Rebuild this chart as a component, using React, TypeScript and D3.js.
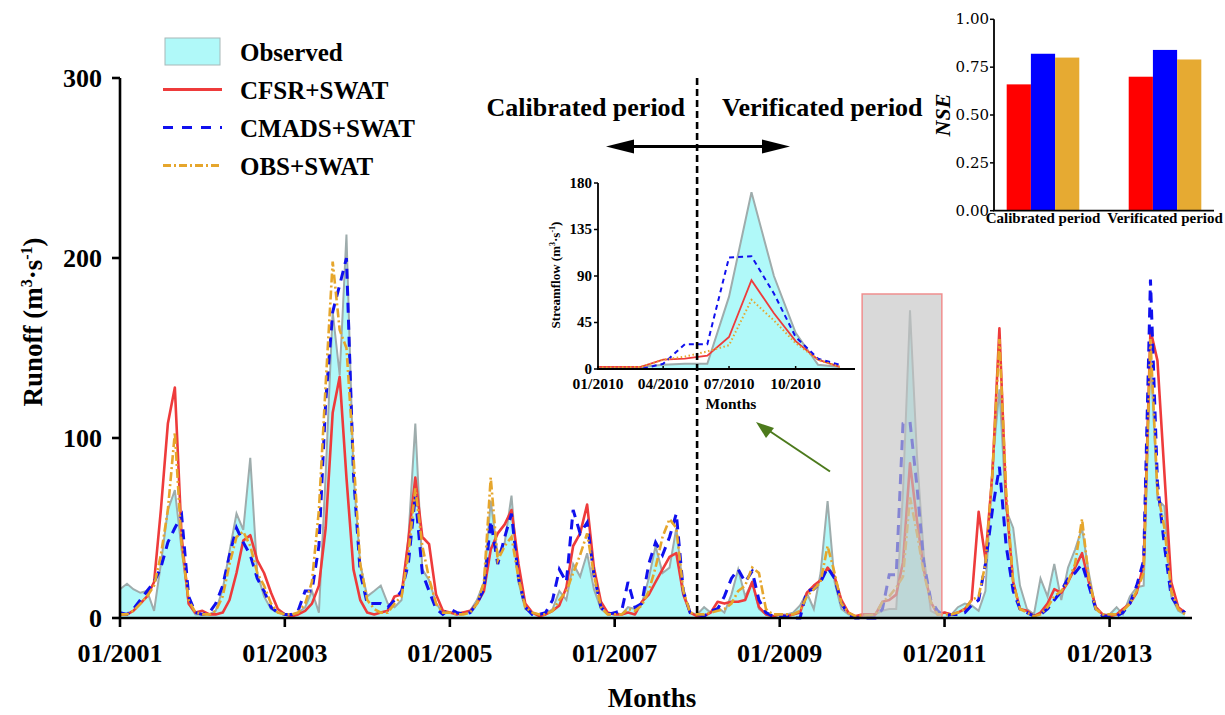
import React from 'react';
import * as d3 from 'd3';

// monthly runoff, 01/2001 .. 12/2013 (one row per year)
const observed = [
  16, 19, 16, 14, 15, 4, 30, 60, 71, 38, 8, 2,
  2, 2, 4, 16, 37, 58, 49, 89, 25, 12, 5, 3,
  2, 2, 3, 6, 15, 3, 80, 170, 135, 213, 80, 30,
  12, 15, 18, 8, 6, 10, 44, 108, 27, 21, 8, 3,
  3, 3, 3, 4, 10, 20, 65, 35, 42, 68, 20, 5,
  3, 2, 2, 5, 15, 10, 30, 23, 36, 16, 5, 2,
  3, 2, 6, 5, 8, 22, 40, 25, 28, 50, 15, 3,
  2, 6, 3, 6, 3, 13, 27, 12, 20, 5, 2, 1,
  2, 2, 3, 7, 14, 5, 25, 65, 20, 5, 2, 1,
  1, 1, 2, 4, 5, 5, 70, 171, 90, 35, 4, 2,
  3, 2, 6, 8, 7, 4, 15, 85, 127, 60, 50, 18,
  5, 2, 22, 12, 30, 10, 28, 38, 50, 25, 5, 2,
  2, 6, 2, 12, 17, 18, 148, 66, 62, 12, 4, 2
];

const cfsr = [
  2, 2, 4, 8, 12, 20, 60, 108, 128, 45, 8, 3,
  4, 2, 2, 3, 10, 25, 43, 46, 32, 25, 14, 5,
  2, 1, 2, 4, 8, 18, 50, 114, 134, 78, 27, 10,
  3, 2, 3, 4, 12, 13, 43, 78, 45, 41, 13, 4,
  3, 2, 3, 4, 8, 15, 38, 47, 52, 60, 30, 8,
  3, 1, 2, 4, 7, 17, 40, 47, 63, 28, 9, 3,
  2, 2, 3, 2, 9, 13, 20, 27, 34, 36, 13, 3,
  1, 1, 3, 9, 8, 9, 9, 10, 20, 6, 2, 1,
  2, 1, 2, 3, 14, 18, 21, 28, 23, 10, 3, 1,
  2, 2, 2, 9, 10, 13, 31, 86, 54, 27, 9, 2,
  3, 2, 3, 5, 10, 59, 33, 80, 161, 65, 20, 5,
  4, 1, 3, 8, 16, 14, 20, 28, 36, 20, 6, 2,
  1, 2, 5, 8, 14, 30, 160, 143, 80, 20, 6, 3
];

const cmads = [
  3, 2, 5, 10, 15, 20, 28, 42, 50, 57, 12, 3,
  2, 3, 8, 18, 35, 50, 42, 35, 22, 15, 6, 3,
  2, 2, 4, 15, 15, 40, 120, 170, 185, 200, 80, 25,
  8, 8, 8, 6, 10, 15, 30, 68, 25, 15, 5, 2,
  5, 3, 2, 3, 8, 16, 54, 30, 45, 58, 22, 6,
  2, 2, 3, 10, 27, 20, 60, 47, 53, 24, 6, 2,
  3, 4, 20, 6, 8, 30, 42, 35, 45, 58, 15, 3,
  2, 1, 4, 5, 12, 22, 27, 20, 26, 10, 3, 1,
  1, 1, 0, 0, 15, 16, 20, 28, 22, 8, 2, 0,
  0, 0, 0, 5, 24, 24, 108, 109, 73, 31, 10, 4,
  1, 2, 2, 3, 7, 10, 30, 60, 84, 40, 15, 5,
  3, 1, 2, 5, 10, 15, 22, 25, 30, 18, 5, 1,
  1, 1, 3, 8, 18, 32, 188, 75, 40, 12, 6, 3
];

const obsSwat = [
  2, 2, 4, 8, 12, 18, 35, 60, 103, 40, 10, 3,
  2, 2, 4, 12, 30, 45, 48, 40, 25, 18, 8, 3,
  2, 2, 3, 8, 20, 60, 130, 198, 160, 150, 90, 30,
  10, 5, 3, 3, 8, 12, 35, 72, 40, 22, 8, 3,
  3, 2, 2, 3, 8, 20, 78, 32, 40, 45, 22, 6,
  3, 2, 2, 4, 10, 15, 25, 35, 47, 24, 6, 2,
  2, 2, 5, 4, 7, 15, 28, 45, 55, 50, 15, 3,
  2, 2, 3, 4, 5, 8, 15, 18, 28, 25, 5, 2,
  2, 2, 2, 4, 12, 16, 20, 40, 25, 8, 3, 1,
  1.5, 1.5, 2, 9, 12, 17, 23, 67, 47, 25, 9, 2,
  2, 2, 3, 5, 10, 12, 30, 80, 155, 70, 20, 5,
  3, 1, 2, 6, 12, 15, 20, 30, 55, 22, 5, 2,
  2, 2, 4, 8, 15, 25, 155, 70, 50, 15, 5, 2
];

const yTicks = [0, 100, 200, 300];
const xTickYears = [2001, 2003, 2005, 2007, 2009, 2011, 2013];
const insetYTicks = [0, 45, 90, 135, 180];
const insetXTickMonths = [0, 3, 6, 9];

const nseCategories = ['Calibrated period', 'Verificated period'];
const nseSeries = ['CFSR+SWAT', 'CMADS+SWAT', 'OBS+SWAT'];
const nseCFSR = [0.66, 0.70];
const nseCMADS = [0.82, 0.84];
const nseOBS = [0.80, 0.79];
const nseTicks = [0, 0.25, 0.5, 0.75, 1];

const FONT = 'Liberation Serif, Times New Roman, DejaVu Serif, serif';
const C_FILL = '#b0f9f9';
const C_OBS = '#9eacac';
const C_RED = '#ee3b3b';
const C_BLUE = '#1010ee';
const C_YEL = '#e6a62c';

const pad = (m) => (m < 9 ? '0' : '') + (m + 1);

export default function App() {
  const months = d3.timeMonth.range(new Date(2001, 0, 1), new Date(2014, 0, 1));

  const x = d3.scaleTime().domain([new Date(2001, 0, 1), new Date(2014, 0, 1)]).range([120, 1192]);
  const y = d3.scaleLinear().domain([0, 300]).range([618, 78]);

  const pts = (arr) => months.map((d, i) => ({ d, v: arr[i] }));
  const area = d3.area().x(p => x(p.d)).y0(y(0)).y1(p => y(p.v));
  const line = d3.line().x(p => x(p.d)).y(p => y(p.v));

  // inset (2010)
  const i0 = 108;
  const insetMonths = months.slice(i0, i0 + 12);
  const ix = d3.scaleTime().domain([new Date(2010, 0, 1), new Date(2010, 11, 22)]).range([598, 855]);
  const iy = d3.scaleLinear().domain([0, 180]).range([369, 183]);
  const ipts = (arr) => insetMonths.map((d, i) => ({ d, v: arr[i0 + i] }));
  const iarea = d3.area().x(p => ix(p.d)).y0(iy(0)).y1(p => iy(p.v));
  const iline = d3.line().x(p => ix(p.d)).y(p => iy(p.v));

  // NSE bars
  const bx0 = d3.scaleBand().domain(nseCategories).range([994, 1214]).paddingInner(0.405).paddingOuter(0.104);
  const bx1 = d3.scaleBand().domain(nseSeries).range([0, bx0.bandwidth()]);
  const by = d3.scaleLinear().domain([0, 1]).range([210.7, 19.3]);
  const nseVals = [nseCFSR, nseCMADS, nseOBS];
  const nseColors = ['#ff0000', '#0000ff', '#e6aa32'];

  const splitX = x(new Date(2008, 0, 1));
  const hlX0 = x(new Date(2010, 0, 1));
  const hlX1 = x(new Date(2010, 11, 20));

  const legend = [
    { label: 'CFSR+SWAT', color: C_RED, dash: null },
    { label: 'CMADS+SWAT', color: C_BLUE, dash: '10,9' },
    { label: 'OBS+SWAT', color: C_YEL, dash: '8,3,2,3' }
  ];

  return (
    <svg width={1225} height={715}
      style={{ position: 'absolute', left: 0, top: 0, background: '#fff', fontFamily: FONT }}>
      {/* main series */}
      <path d={area(pts(observed))} fill={C_FILL} />
      <path d={line(pts(observed))} fill="none" stroke={C_OBS} strokeWidth={2} />
      <path d={line(pts(cfsr))} fill="none" stroke={C_RED} strokeWidth={2.6} strokeLinejoin="round" />
      <path d={line(pts(cmads))} fill="none" stroke={C_BLUE} strokeWidth={3} strokeDasharray="10,7" />
      <path d={line(pts(obsSwat))} fill="none" stroke={C_YEL} strokeWidth={2.6} strokeDasharray="9,3,2,3" />

      {/* highlighted 2010 window */}
      <rect x={hlX0} y={y(180)} width={hlX1 - hlX0} height={y(0) - y(180)}
        fill="#c4c4c4" fillOpacity={0.65} stroke="#f08e8e" strokeWidth={1.5} />

      {/* main axes */}
      <line x1={120} x2={120} y1={y(300)} y2={y(0) + 1} stroke="#000" strokeWidth={2.6} />
      <line x1={119} x2={1192} y1={y(0)} y2={y(0)} stroke="#000" strokeWidth={2.6} />
      {yTicks.map(t => (
        <g key={t}>
          <line x1={112} x2={120} y1={y(t)} y2={y(t)} stroke="#000" strokeWidth={2.6} />
          <text x={102} y={y(t) + 9} textAnchor="end" fontSize={26} fontWeight="bold">{t}</text>
        </g>
      ))}
      {xTickYears.map(yr => {
        const tx = x(new Date(yr, 0, 1));
        return (
          <g key={yr}>
            <line x1={tx} x2={tx} y1={y(0)} y2={y(0) + 9} stroke="#000" strokeWidth={2.6} />
            <text x={tx} y={662} textAnchor="middle" fontSize={26} fontWeight="bold">01/{yr}</text>
          </g>
        );
      })}
      <text x={652} y={707} textAnchor="middle" fontSize={27} fontWeight="bold">Months</text>
      <text transform="translate(42,322) rotate(-90)" textAnchor="middle" fontSize={27} fontWeight="bold">
        Runoff (m<tspan dy={-10} fontSize={16}>3</tspan><tspan dy={10}>·s</tspan><tspan dy={-10} fontSize={16}>-1</tspan><tspan dy={10}>)</tspan>
      </text>

      {/* legend */}
      <rect x={165} y={38} width={55} height={27} fill={C_FILL} stroke="#a8b8b8" strokeWidth={1} />
      <text x={240} y={61} fontSize={25} fontWeight="bold">Observed</text>
      {legend.map((l, k) => {
        const ly = 89.5 + k * 38;
        return (
          <g key={l.label}>
            <line x1={163} x2={222} y1={ly} y2={ly} stroke={l.color} strokeWidth={3}
              strokeDasharray={l.dash || undefined} />
            <text x={240} y={ly + 9} fontSize={25} fontWeight="bold">{l.label}</text>
          </g>
        );
      })}

      {/* period annotation */}
      <text x={splitX - 12} y={116} textAnchor="end" fontSize={26} fontWeight="bold">Calibrated period</text>
      <text x={splitX + 25} y={116} textAnchor="start" fontSize={26} fontWeight="bold">Verificated period</text>
      <line x1={625} x2={770} y1={146.5} y2={146.5} stroke="#000" strokeWidth={3} />
      <polygon points="606,146.5 634,139.5 634,153.5" fill="#000" />
      <polygon points="790,146.5 762,139.5 762,153.5" fill="#000" />

      {/* inset */}
      <path d={iarea(ipts(observed))} fill={C_FILL} />
      <path d={iline(ipts(observed))} fill="none" stroke={C_OBS} strokeWidth={2} />
      <path d={iline(ipts(cfsr))} fill="none" stroke={C_RED} strokeWidth={1.8} />
      <path d={iline(ipts(cmads))} fill="none" stroke={C_BLUE} strokeWidth={2} strokeDasharray="5,4" />
      <path d={iline(ipts(obsSwat))} fill="none" stroke={C_YEL} strokeWidth={2} strokeDasharray="1.5,2.5" />
      <line x1={598} x2={598} y1={iy(180)} y2={iy(0)} stroke="#000" strokeWidth={1.8} />
      <line x1={597} x2={855} y1={iy(0)} y2={iy(0)} stroke="#000" strokeWidth={1.8} />
      {insetYTicks.map(t => (
        <g key={t}>
          <line x1={594} x2={598} y1={iy(t)} y2={iy(t)} stroke="#000" strokeWidth={1.5} />
          <text x={592} y={iy(t) + 4.5} textAnchor="end" fontSize={15} fontWeight="bold">{t}</text>
        </g>
      ))}
      {insetXTickMonths.map(m => {
        const tx = ix(new Date(2010, m, 1));
        return (
          <g key={m}>
            <line x1={tx} x2={tx} y1={iy(0)} y2={iy(0) - 3} stroke="#000" strokeWidth={1.5} />
            <text x={tx} y={389} textAnchor="middle" fontSize={15.5} fontWeight="bold">{pad(m)}/2010</text>
          </g>
        );
      })}
      <text x={731} y={409} textAnchor="middle" fontSize={15.5} fontWeight="bold">Months</text>
      <text transform="translate(560,275) rotate(-90)" textAnchor="middle" fontSize={13} fontWeight="bold">
        Streamflow (m<tspan dy={-5} fontSize={8}>3</tspan><tspan dy={5}>·s</tspan><tspan dy={-5} fontSize={8}>-1</tspan><tspan dy={5}>)</tspan>
      </text>

      {/* split line */}
      <line x1={splitX} x2={splitX} y1={78} y2={y(0)} stroke="#000" strokeWidth={2.6} strokeDasharray="7,4" />

      {/* green pointer */}
      <line x1={830} y1={471.5} x2={768} y2={430} stroke="#4c7a1c" strokeWidth={2} />
      <polygon points="756,422 774,428 766,438" fill="#4c7a1c" />

      {/* NSE bar chart */}
      {nseCategories.map((c, ci) => (
        <g key={c}>
          {nseSeries.map((s, si) => (
            <rect key={s} x={bx0(c) + bx1(s)} y={by(nseVals[si][ci])} width={bx1.bandwidth()}
              height={by(0) - by(nseVals[si][ci])} fill={nseColors[si]} />
          ))}
          <text x={bx0(c) + bx0.bandwidth() / 2} y={223} textAnchor="middle" fontSize={15} fontWeight="bold">{c}</text>
        </g>
      ))}
      <line x1={994} x2={994} y1={by(1)} y2={by(0)} stroke="#000" strokeWidth={1.8} />
      <line x1={993} x2={1214} y1={by(0)} y2={by(0)} stroke="#000" strokeWidth={1.8} />
      {nseTicks.map(t => (
        <g key={t}>
          <line x1={990} x2={994} y1={by(t)} y2={by(t)} stroke="#000" strokeWidth={1.5} />
          <text x={989} y={by(t) + 5} textAnchor="end" fontSize={15} style={{ fontFamily: 'DejaVu Serif, serif' }}>{t.toFixed(2)}</text>
        </g>
      ))}
      <text transform="translate(950,115) rotate(-90)" textAnchor="middle" fontSize={22} fontWeight="bold" fontStyle="italic">NSE</text>
    </svg>
  );
}
